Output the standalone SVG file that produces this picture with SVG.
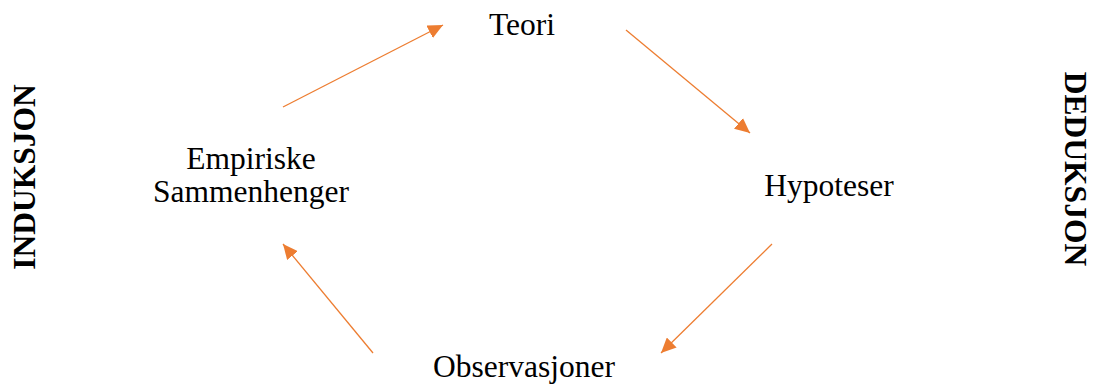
<svg xmlns="http://www.w3.org/2000/svg" width="1093" height="387" viewBox="0 0 1093 387">
<style>
.t{font-family:"Liberation Serif","Times New Roman",serif;font-size:31.5px;fill:#000;text-anchor:middle}
.b{font-weight:bold}
.c{stroke:#ED7D31;stroke-width:1.3;fill:none;marker-end:url(#ah)}
</style>
<defs>
<marker id="ah" markerUnits="userSpaceOnUse" markerWidth="16" markerHeight="14" refX="15" refY="7" orient="auto">
<path d="M0,0 L15,7 L0,14 Z" fill="#ED7D31"/>
</marker>
</defs>
<rect width="1093" height="387" fill="#fff"/>
<g id="connectors">
<line class="c" x1="283" y1="107" x2="443" y2="25"/>
<line class="c" x1="626" y1="30" x2="750" y2="133"/>
<line class="c" x1="772" y1="244" x2="661" y2="353"/>
<line class="c" x1="373" y1="353" x2="283" y2="244"/>
</g>
<g id="teori"><text class="t" x="522" y="35">Teori</text></g>
<g id="hypoteser"><text class="t" x="829" y="196">Hypoteser</text></g>
<g id="observasjoner"><text class="t" x="524" y="377">Observasjoner</text></g>
<g id="empiriske"><text class="t" x="251" y="169">Empiriske</text><text class="t" x="251" y="202">Sammenhenger</text></g>
<g id="induksjon"><text class="t b" transform="translate(35,177) rotate(-90)">INDUKSJON</text></g>
<g id="deduksjon"><text class="t b" transform="translate(1065,169) rotate(90)">DEDUKSJON</text></g>
</svg>
